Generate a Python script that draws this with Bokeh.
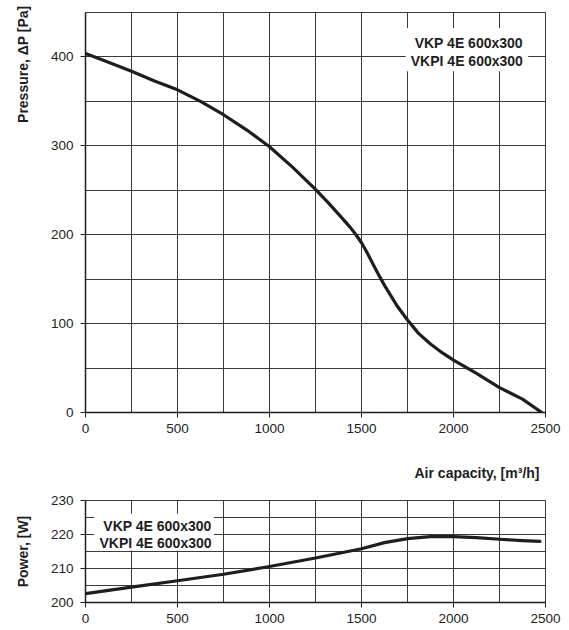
from bokeh.plotting import figure
from bokeh.layouts import column
from bokeh.models import FixedTicker, Title, Range1d
from bokeh.core.properties import value
from bokeh.embed import file_html
from bokeh.resources import INLINE

# ---- data ----
airflow_p = [0, 125, 250, 375, 500, 625, 750, 875, 1000, 1125, 1250, 1315,
             1380, 1440, 1470, 1500, 1530, 1560, 1590, 1625, 1690, 1750,
             1810, 1875, 1940, 2000, 2125, 2250, 2375, 2480]
pressure = [404, 394, 384, 373, 363, 350, 335, 318, 299, 276, 251, 237,
            222, 208, 200, 191, 180, 168, 156, 143, 121, 104,
            89, 77, 67, 59, 44, 28, 15, 0]

airflow_w = [0, 250, 500, 750, 1000, 1250, 1500, 1625, 1750, 1875, 2000,
             2125, 2250, 2375, 2470]
power = [202.6, 204.5, 206.4, 208.3, 210.6, 213.1, 215.8, 217.6, 218.8,
         219.4, 219.4, 219.1, 218.6, 218.2, 218.0]

model_lines = ["VKP 4E 600x300", "VKPI 4E 600x300"]
x_ticks = [0, 500, 1000, 1500, 2000, 2500]
x_grid = [0, 250, 500, 750, 1000, 1250, 1500, 1750, 2000, 2250, 2500]
p_ticks = [0, 100, 200, 300, 400]
p_grid = [0, 50, 100, 150, 200, 250, 300, 350, 400, 450]
w_ticks = [200, 210, 220, 230]
w_grid = [200, 205, 210, 215, 220, 225, 230]

FONT = "Liberation Sans"
INK = "#1e1e1e"
GRID = "#3a3a3a"


def style(p, xt, xg, yt, yg):
    p.xaxis.ticker = FixedTicker(ticks=xt)
    p.yaxis.ticker = FixedTicker(ticks=yt)
    p.xgrid.ticker = FixedTicker(ticks=xg)
    p.ygrid.ticker = FixedTicker(ticks=yg)
    p.grid.grid_line_color = GRID
    p.grid.grid_line_width = 1
    p.grid.grid_line_alpha = 1
    p.outline_line_color = GRID
    p.outline_line_width = 1
    for ax in (p.xaxis, p.yaxis):
        ax.axis_line_color = INK
        ax.axis_line_width = 1.5
        ax.major_tick_line_color = INK
        ax.major_tick_out = 5
        ax.major_tick_in = 0
        ax.minor_tick_line_color = None
        ax.major_label_text_font = FONT
        ax.major_label_text_font_size = "13.5px"
        ax.major_label_text_color = "#222222"
    p.yaxis.major_label_standoff = 7
    p.xaxis.major_label_standoff = 6
    p.background_fill_color = "white"
    p.border_fill_color = "white"


# ---- pressure chart ----
p1 = figure(frame_width=460, frame_height=400,
            x_range=Range1d(0, 2500), y_range=Range1d(0, 450),
            output_backend="svg", toolbar_location=None,
            min_border_left=77, min_border_right=16,
            min_border_top=12, min_border_bottom=30)
style(p1, x_ticks, x_grid, p_ticks, p_grid)

t1 = Title(text="Pressure, \u0394P [Pa]", align="right", text_font=FONT,
           text_font_size="14px", text_font_style="bold", text_color=INK,
           standoff=29, offset=-7, vertical_align="top")
p1.add_layout(t1, "left")

p1.quad(left=[1740], right=[2406], bottom=[384], top=[432.5],
        fill_color="white", line_color=None)
p1.text(x=[2377, 2377], y=[416, 396], text=model_lines,
        text_align="right", text_baseline="middle",
        text_font=value(FONT), text_font_style="bold",
        text_font_size="14px", text_color=INK)
p1.line(airflow_p, pressure, line_color=INK, line_width=3.2,
        line_join="round", line_cap="round")

# ---- power chart ----
p2 = figure(frame_width=460, frame_height=102,
            x_range=Range1d(0, 2500), y_range=Range1d(200, 230),
            output_backend="svg", toolbar_location=None,
            min_border_left=77, min_border_right=16,
            min_border_top=58, min_border_bottom=22)
style(p2, x_ticks, x_grid, w_ticks, w_grid)

tx = Title(text="Air capacity, [m\u00b3/h]", align="right", text_font=FONT,
           text_font_size="14px", text_font_style="bold", text_color=INK,
           standoff=40, offset=6)
p2.add_layout(tx, "above")

t2 = Title(text="Power, [W]", align="center", text_font=FONT,
           text_font_size="14px", text_font_style="bold", text_color=INK,
           standoff=29, vertical_align="top")
p2.add_layout(t2, "left")

p2.quad(left=[47], right=[698], bottom=[215.3], top=[226.1],
        fill_color="white", line_color=None)
p2.text(x=[685, 685], y=[222.6, 217.5], text=model_lines,
        text_align="right", text_baseline="middle",
        text_font=value(FONT), text_font_style="bold",
        text_font_size="14px", text_color=INK)
p2.line(airflow_w, power, line_color=INK, line_width=3.2,
        line_join="round", line_cap="round")

layout = column(p1, p2, spacing=0)
open("out.html", "w").write(file_html(layout, INLINE))
